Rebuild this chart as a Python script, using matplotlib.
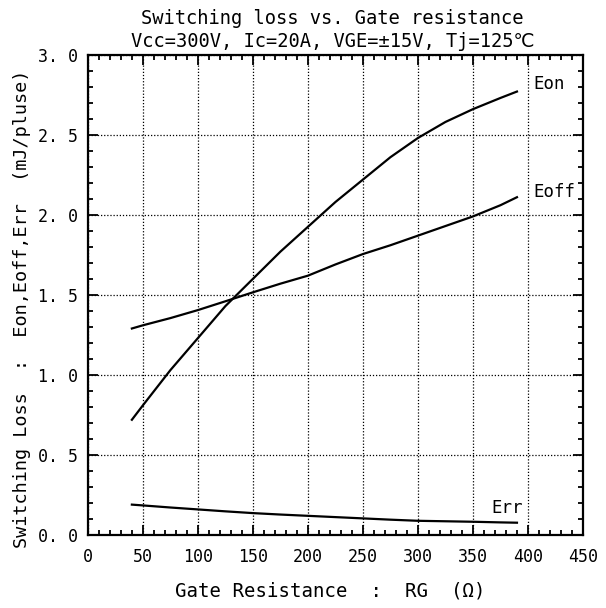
import matplotlib
matplotlib.use("Agg")
import matplotlib.pyplot as plt
from matplotlib.ticker import MultipleLocator, FixedLocator, FixedFormatter

rg = [40, 50, 75, 100, 125, 150, 175, 200, 225, 250, 275, 300, 325, 350, 375, 390]
eon = [0.72, 0.81, 1.03, 1.23, 1.43, 1.60, 1.77, 1.925, 2.08, 2.22, 2.36, 2.48, 2.58, 2.66, 2.73, 2.77]
eoff = [1.29, 1.31, 1.355, 1.405, 1.46, 1.516, 1.57, 1.62, 1.69, 1.755, 1.81, 1.87, 1.93, 1.99, 2.06, 2.11]
err = [0.19, 0.185, 0.172, 0.16, 0.148, 0.137, 0.128, 0.12, 0.112, 0.104, 0.096, 0.089, 0.086, 0.083, 0.079, 0.077]

xticks = [0, 50, 100, 150, 200, 250, 300, 350, 400, 450]
yticks = [0.0, 0.5, 1.0, 1.5, 2.0, 2.5, 3.0]
ytick_labels = ["0. 0", "0. 5", "1. 0", "1. 5", "2. 0", "2. 5", "3. 0"]

font = "DejaVu Sans Mono"
plt.rcParams["font.family"] = [font, "DejaVu Sans"]

fig = plt.figure(figsize=(6.06, 6.08), dpi=100)
ax = fig.add_axes([0.145, 0.12, 0.817, 0.79])

for y in [eon, eoff, err]:
    ax.plot(rg, y, color="black", lw=1.6)

ax.set_xlim(0, 450)
ax.set_ylim(0, 3.0)
ax.xaxis.set_major_locator(FixedLocator(xticks))
ax.xaxis.set_minor_locator(MultipleLocator(10))
ax.yaxis.set_major_locator(FixedLocator(yticks))
ax.yaxis.set_major_formatter(FixedFormatter(ytick_labels))
ax.yaxis.set_minor_locator(MultipleLocator(0.1))
ax.tick_params(which="both", direction="in", top=True, right=True, colors="black",
               labelsize=12, width=1.3)
ax.tick_params(which="major", length=7)
ax.tick_params(axis="x", which="major", pad=9)
ax.tick_params(axis="y", which="major", pad=7)
ax.tick_params(which="minor", length=3.5)
for s in ax.spines.values():
    s.set_linewidth(1.6)
ax.grid(True, which="major", color="black", linestyle=(0, (1, 1.5)), linewidth=0.9)

ax.text(405, 2.82, "Eon", fontsize=12.5, va="center", ha="left")
ax.text(405, 2.14, "Eoff", fontsize=12.5, va="center", ha="left")
ax.text(367, 0.17, "Err", fontsize=12.5, va="center", ha="left")

fig.text(0.548, 0.969, "Switching loss vs. Gate resistance", ha="center", va="center", fontsize=13.5)
fig.text(0.549, 0.931, "Vcc=300V, Ic=20A, VGE=\u00b115V, Tj=125\u2103", ha="center", va="center", fontsize=13.5)

ax.set_xlabel("Gate Resistance  :  RG  (\u03a9)", fontsize=13.7)
ax.xaxis.set_label_coords(0.49, -0.097)
ax.set_ylabel("Switching Loss  :  Eon,Eoff,Err  (mJ/pluse)", fontsize=13.3)
ax.yaxis.set_label_coords(-0.115, 0.47)

fig.savefig("out.png", dpi=100, facecolor="white")
